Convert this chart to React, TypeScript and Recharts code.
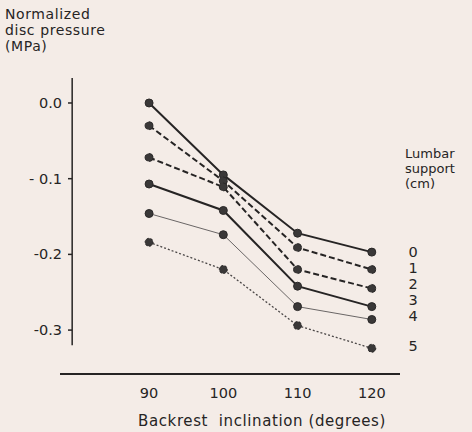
import React from "react";
import {
  LineChart,
  Line,
  XAxis,
  YAxis,
  ReferenceLine,
} from "recharts";

// backrest inclination (degrees)
const inclinations = [90, 100, 110, 120];

// normalized disc pressure (MPa) per lumbar support depth (cm)
const support0 = [0, -0.095, -0.172, -0.197];
const support1 = [-0.03, -0.103, -0.191, -0.22];
const support2 = [-0.072, -0.111, -0.22, -0.245];
const support3 = [-0.107, -0.142, -0.242, -0.269];
const support4 = [-0.146, -0.174, -0.269, -0.286];
const support5 = [-0.184, -0.22, -0.294, -0.324];

const supportLabels = ["0", "1", "2", "3", "4", "5"];
const xTicks = [90, 100, 110, 120];
const yTicks = [0, -0.1, -0.2, -0.3];
const yTickLabels: Record<string, string> = {
  "0": "0.0",
  "-0.1": "- 0.1",
  "-0.2": "-0.2",
  "-0.3": "-0.3",
};

const allSeries = [support0, support1, support2, support3, support4, support5];
const data = inclinations.map((x, i) => {
  const row: Record<string, number> = { x };
  allSeries.forEach((s, k) => (row["s" + k] = s[i]));
  return row;
});

const FONT = "'DejaVu Sans', sans-serif";
const INK = "#262424";
const BG = "#f4ece7";

const X_DOMAIN: [number, number] = [78, 123.8];
const Y_DOMAIN: [number, number] = [-0.358, 0.033];
// y axis is drawn detached from the x axis, as in the original figure
const Y_AXIS_AT = 79.64;
const Y_AXIS_TOP = 0.033;
const Y_AXIS_BOTTOM = -0.32;

const lineStyles = [
  { width: 2, dash: undefined, color: INK },
  { width: 2, dash: "6 3", color: INK },
  { width: 2, dash: "6 3", color: INK },
  { width: 2, dash: undefined, color: INK },
  { width: 1, dash: undefined, color: "#6a6666" },
  { width: 1.3, dash: "2 2", color: "#4a4646" },
];

function YTick(props: any) {
  const { x, y, payload } = props;
  return (
    <g>
      <line x1={x + 16} x2={x + 20} y1={y} y2={y} stroke={INK} strokeWidth={1.5} />
      <text x={x + 10} y={y} dy={5} textAnchor="end" fontSize={14.5} fontFamily={FONT} fill={INK}>
        {yTickLabels[String(payload.value)] ?? payload.value}
      </text>
    </g>
  );
}

export default function App() {
  return (
    <div
      style={{
        position: "absolute",
        top: 0,
        left: 0,
        width: 472,
        height: 432,
        background: BG,
        fontFamily: FONT,
        color: INK,
      }}
    >
      <div
        style={{
          position: "absolute",
          left: 5,
          top: 6,
          fontSize: 14,
          lineHeight: "16px",
          letterSpacing: 0.6,
        }}
      >
        Normalized
        <br />
        disc pressure
        <br />
        (MPa)
      </div>
      <div style={{ position: "absolute", left: 405, top: 146, fontSize: 13, lineHeight: "15px" }}>
        Lumbar
        <br />
        support
        <br />
        (cm)
      </div>
      <div
        style={{
          position: "absolute",
          left: 405,
          top: 244,
          width: 16,
          textAlign: "center",
          fontSize: 14.5,
          lineHeight: "16px",
        }}
      >
        {supportLabels.slice(0, 5).map((s) => (
          <div key={s}>{s}</div>
        ))}
        <div style={{ marginTop: 14 }}>{supportLabels[5]}</div>
      </div>
      <div
        style={{
          position: "absolute",
          left: 133,
          top: 412,
          width: 258,
          textAlign: "center",
          fontSize: 15,
          letterSpacing: 0.6,
          whiteSpace: "pre",
        }}
      >
        Backrest  inclination (degrees)
      </div>
      <LineChart
        width={472}
        height={432}
        data={data}
        margin={{ top: 78, right: 72, left: 0, bottom: 0 }}
      >
        <XAxis
          dataKey="x"
          type="number"
          domain={X_DOMAIN}
          ticks={xTicks}
          allowDataOverflow
          height={58}
          axisLine={{ stroke: INK, strokeWidth: 2 }}
          tickLine={false}
          tick={{ fontSize: 14.5, fill: INK, fontFamily: FONT }}
          tickMargin={8}
        />
        <YAxis
          type="number"
          domain={Y_DOMAIN}
          ticks={yTicks}
          allowDataOverflow
          width={60}
          axisLine={false}
          tickLine={false}
          tick={<YTick />}
        />
        <ReferenceLine
          segment={[
            { x: Y_AXIS_AT, y: Y_AXIS_TOP },
            { x: Y_AXIS_AT, y: Y_AXIS_BOTTOM },
          ]}
          stroke={INK}
          strokeWidth={1.5}
          ifOverflow="visible"
        />
        {allSeries.map((_, k) => (
          <Line
            key={k}
            dataKey={"s" + k}
            type="linear"
            stroke={lineStyles[k].color}
            strokeWidth={lineStyles[k].width}
            strokeDasharray={lineStyles[k].dash}
            dot={{ r: 4, fill: "#3a3838", stroke: "#2a2828", strokeWidth: 1 }}
            isAnimationActive={false}
          />
        ))}
      </LineChart>
    </div>
  );
}
